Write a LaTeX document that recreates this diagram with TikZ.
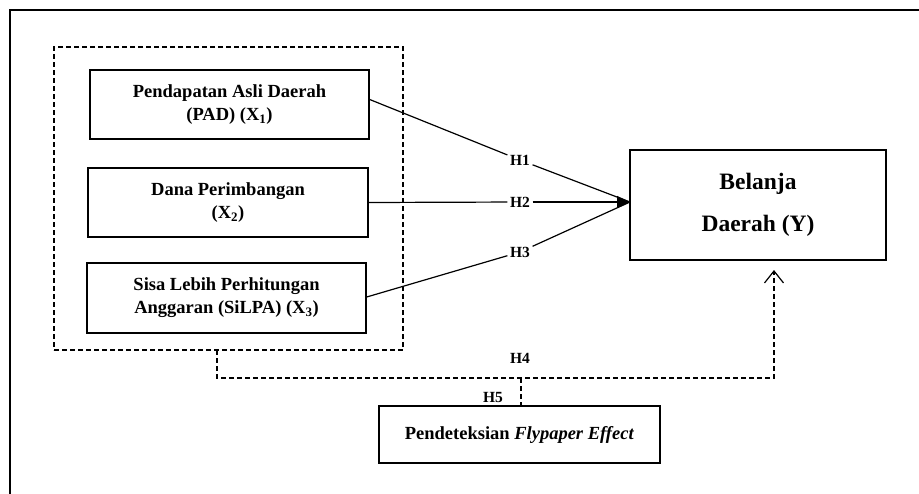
\documentclass[tikz,border=0pt]{standalone}
\usepackage{fontspec}
\setmainfont{Liberation Serif}
\usetikzlibrary{arrows.meta}
\begin{document}
\begin{tikzpicture}[x=1pt,y=-1pt,
  varbox/.style={draw,line width=1.4pt,align=center,font=\fontsize{18.5}{23}\selectfont\bfseries,inner sep=0pt},
  hlab/.style={font=\fontsize{15.5}{17}\selectfont\bfseries,fill=white,inner sep=2.5pt},
  hfree/.style={font=\fontsize{15.5}{17}\selectfont\bfseries,inner sep=1pt},
  conn/.style={line width=1.2pt},
  dconn/.style={line width=1.2pt,dash pattern=on 5pt off 3pt}]
\useasboundingbox (0,0) rectangle (919,493);
\draw[line width=2.4pt] (10,10) rectangle (925,500);
\node[draw,line width=1.2pt,dash pattern=on 5pt off 3pt,minimum width=349pt,minimum height=303pt,inner sep=0pt] (grp) at (228.5,198.5) {};
\node[varbox,minimum width=279pt,minimum height=69pt] (b1) at (229.5,104.5) {Pendapatan Asli Daerah\\(PAD) (X\textsubscript{1})};
\node[varbox,minimum width=280pt,minimum height=69pt] (b2) at (228,202.5) {Dana Perimbangan\\(X\textsubscript{2})};
\node[varbox,minimum width=279pt,minimum height=70pt] (b3) at (226.5,298) {Sisa Lebih Perhitungan\\Anggaran (SiLPA) (X\textsubscript{3})};
\node[varbox,minimum width=256pt,minimum height=110pt,font=\fontsize{23.5}{42}\selectfont\bfseries] (y) at (758,205) {Belanja\\Daerah (Y)};
\node[varbox,minimum width=281pt,minimum height=57pt] (p) at (519.5,434.5) {Pendeteksian \textit{Flypaper Effect}};
\coordinate (tip) at (630,202);
\node[hlab] (h1) at (520,160) {H1};
\node[hlab] (h2) at (520,202) {H2};
\node[hlab] (h3) at (520,252) {H3};
\node[hfree] (h4) at (520,358) {H4};
\node[hfree] (h5) at (493,397) {H5};
\draw[conn] ([yshift=5pt]b1.east) -- (h1) -- (tip);
\draw[conn] (b2.east) -- (h2);
\draw[conn,-{Triangle[length=13pt,width=12pt]}] (h2) -- (tip);
\draw[conn] ([yshift=1pt]b3.east) -- (h3) -- (tip);
\coordinate (d1) at (217,350);
\coordinate (d2) at (774,378);
\coordinate (d3) at (774,270);
\coordinate (d4) at (521,378);
\draw[dconn,-{Straight Barb[length=12pt,width=19pt,line width=1.2pt]}] (d1) |- (d2) -- (d3);
\draw[dconn] (d4) -- (d4 |- p.north);
\end{tikzpicture}
\end{document}
